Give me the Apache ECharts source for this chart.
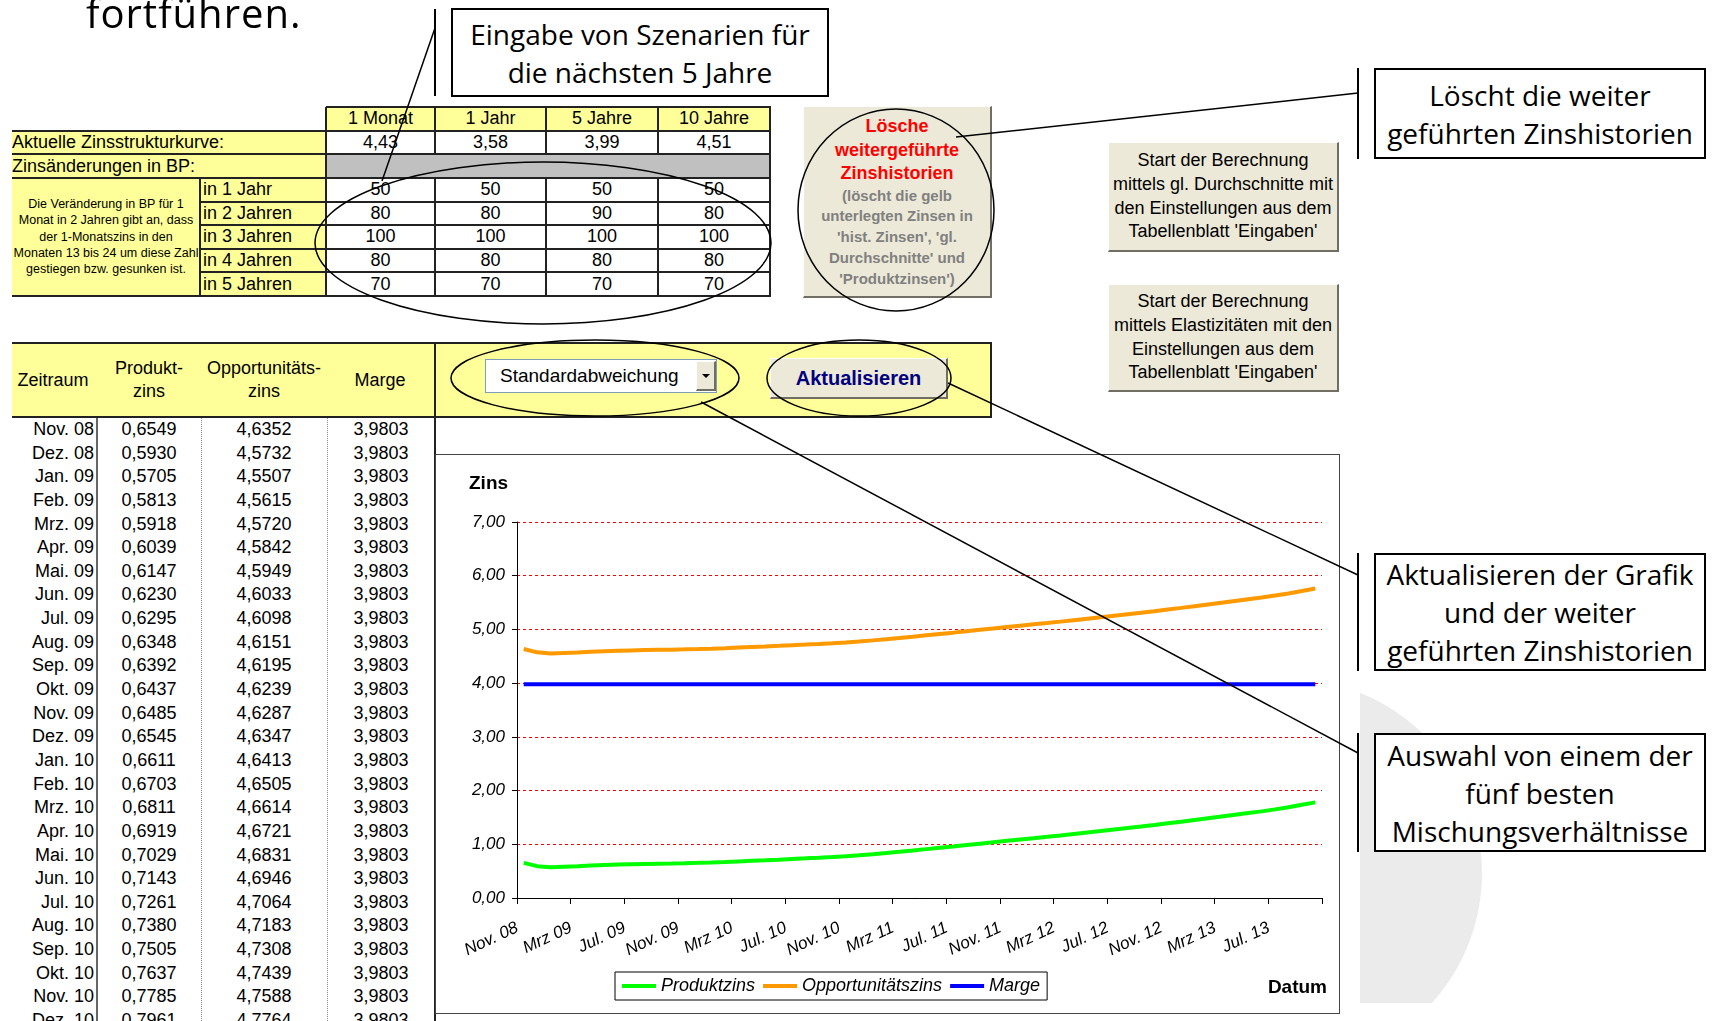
<!DOCTYPE html>
<html><head><meta charset="utf-8">
<script src="https://cdn.jsdelivr.net/npm/echarts@6/dist/echarts.min.js"></script>
<style>
html,body{margin:0;padding:0;background:#fff;}
#page{position:relative;width:1717px;height:1021px;overflow:hidden;background:#fff;font-family:'Liberation Sans',Arial,sans-serif;color:#000;}
.abs{position:absolute;box-sizing:border-box;}
.fc{display:flex;align-items:center;justify-content:center;text-align:center;}
.fl{display:flex;align-items:center;justify-content:flex-start;}
.call{border:2px solid #000;background:#fff;font-family:'Open Sans',sans-serif;font-size:28px;line-height:38px;}
.btn{background:#ece9d8;border-top:1px solid #fff;border-left:1px solid #fff;border-right:2px solid #716f64;border-bottom:2px solid #716f64;}
</style></head>
<body><div id="page"></div>
<script>
// ---------- data ----------
const months = ['Nov. 08','Dez. 08','Jan. 09','Feb. 09','Mrz. 09','Apr. 09','Mai. 09','Jun. 09','Jul. 09','Aug. 09','Sep. 09','Okt. 09',
 'Nov. 09','Dez. 09','Jan. 10','Feb. 10','Mrz. 10','Apr. 10','Mai. 10','Jun. 10','Jul. 10','Aug. 10','Sep. 10','Okt. 10',
 'Nov. 10','Dez. 10','Jan. 11','Feb. 11','Mrz. 11','Apr. 11','Mai. 11','Jun. 11','Jul. 11','Aug. 11','Sep. 11','Okt. 11',
 'Nov. 11','Dez. 11','Jan. 12','Feb. 12','Mrz. 12','Apr. 12','Mai. 12','Jun. 12','Jul. 12','Aug. 12','Sep. 12','Okt. 12',
 'Nov. 12','Dez. 12','Jan. 13','Feb. 13','Mrz. 13','Apr. 13','Mai. 13','Jun. 13','Jul. 13','Aug. 13','Sep. 13','Okt. 13'];
const xTickLabels = ['Nov. 08','Mrz 09','Jul. 09','Nov. 09','Mrz 10','Jul. 10','Nov. 10','Mrz 11','Jul. 11','Nov. 11','Mrz 12','Jul. 12','Nov. 12','Mrz 13','Jul. 13'];
const produktzins = [0.6549,0.5930,0.5705,0.5813,0.5918,0.6039,0.6147,0.6230,0.6295,0.6348,0.6392,0.6437,
 0.6485,0.6545,0.6611,0.6703,0.6811,0.6919,0.7029,0.7143,0.7261,0.7380,0.7505,0.7637,
 0.7785,0.7961,0.816,0.838,0.861,0.885,0.910,0.935,0.960,0.986,1.012,1.038,
 1.064,1.089,1.114,1.139,1.165,1.192,1.219,1.246,1.274,1.302,1.330,1.359,
 1.390,1.421,1.453,1.485,1.517,1.549,1.581,1.613,1.650,1.690,1.735,1.780];
const opportunitaetszins = [4.6352,4.5732,4.5507,4.5615,4.5720,4.5842,4.5949,4.6033,4.6098,4.6151,4.6195,4.6239,
 4.6287,4.6347,4.6413,4.6505,4.6614,4.6721,4.6831,4.6946,4.7064,4.7183,4.7308,4.7439,
 4.7588,4.7764,4.7963,4.8183,4.8413,4.8653,4.8903,4.9153,4.9403,4.9663,4.9923,5.0183,
 5.0443,5.0693,5.0943,5.1193,5.1453,5.1723,5.1993,5.2263,5.2543,5.2823,5.3103,5.3393,
 5.3703,5.4013,5.4333,5.4653,5.4973,5.5293,5.5613,5.5933,5.6303,5.6703,5.7153,5.7603];
const marge = [3.9803,3.9803,3.9803,3.9803,3.9803,3.9803,3.9803,3.9803,3.9803,3.9803,3.9803,3.9803,
 3.9803,3.9803,3.9803,3.9803,3.9803,3.9803,3.9803,3.9803,3.9803,3.9803,3.9803,3.9803,
 3.9803,3.9803,3.9803,3.9803,3.9803,3.9803,3.9803,3.9803,3.9803,3.9803,3.9803,3.9803,
 3.9803,3.9803,3.9803,3.9803,3.9803,3.9803,3.9803,3.9803,3.9803,3.9803,3.9803,3.9803,
 3.9803,3.9803,3.9803,3.9803,3.9803,3.9803,3.9803,3.9803,3.9803,3.9803,3.9803,3.9803];
const laufzeiten = ['1 Monat','1 Jahr','5 Jahre','10 Jahre'];
const zinsstruktur = ['4,43','3,58','3,99','4,51'];
const szenarioJahre = ['in 1 Jahr','in 2 Jahren','in 3 Jahren','in 4 Jahren','in 5 Jahren'];
const bpAenderungen = [[50,50,50,50],[80,80,90,80],[100,100,100,100],[80,80,80,80],[70,70,70,70]];
const sichtbareZeilen = 26;

// ---------- page ----------
const page = document.getElementById('page');
function box(x,y,w,h,cls,style,html){
  const d=document.createElement('div'); d.className='abs '+(cls||'');
  d.style.cssText=`left:${x}px;top:${y}px;width:${w}px;height:${h}px;`+(style||'');
  if(html!==undefined) d.innerHTML=html; page.appendChild(d); return d;
}
const YEL='background:#ffff99;';
const F18='font-size:18px;';
function hl(x1,x2,y){box(x1,y-1,x2-x1,2,'','background:#222;');}
function vl(x,y1,y2){box(x-1,y1,2,y2-y1,'','background:#222;');}

// watermark arc
const wm = box(1360,680,140,323,'','overflow:hidden;');
const wc = document.createElement('div'); wc.className='abs';
wc.style.cssText='left:-266px;top:-1px;width:388px;height:388px;border-radius:50%;background:#ebebeb;';
wm.appendChild(wc);

// upper table
const cols=[12,200,326,435,546,658,770];
const Y=[]; for(let i=0;i<=8;i++) Y.push(107+23.625*i);
const rh=23.625;
laufzeiten.forEach((t,c)=>box(cols[c+2],Y[0],cols[c+3]-cols[c+2],rh,'fc',YEL+F18,t));
box(12,Y[1],314,rh,'fl',YEL+F18,'Aktuelle Zinsstrukturkurve:');
zinsstruktur.forEach((t,c)=>box(cols[c+2],Y[1],cols[c+3]-cols[c+2],rh,'fc',F18,t));
box(12,Y[2],314,rh,'fl',YEL+F18,'Zinsänderungen in BP:');
box(326,Y[2],444,rh,'','background:#c0c0c0;');
box(12,Y[3],188,Y[8]-Y[3],'fc',YEL+'font-size:12.5px;line-height:16.3px;',
 'Die Veränderung in BP für 1<br>Monat in 2 Jahren gibt an, dass<br>der 1-Monatszins in den<br>Monaten 13 bis 24 um diese Zahl<br>gestiegen bzw. gesunken ist.');
szenarioJahre.forEach((t,r)=>{
  box(200,Y[3+r],126,rh,'fl',YEL+F18+'padding-left:3px;',t);
  bpAenderungen[r].forEach((v,c)=>box(cols[c+2],Y[3+r],cols[c+3]-cols[c+2],rh,'fc',F18,String(v)));
});
for(let i=0;i<=8;i++) hl(326,771,Y[i]);
[1,2,3,8].forEach(i=>hl(12,326,Y[i]));
for(let i=4;i<=7;i++) hl(200,326,Y[i]);
vl(326,Y[0],Y[8]); vl(770,Y[0],Y[8]); vl(200,Y[3],Y[8]);
[435,546,658].forEach(x=>{vl(x,Y[0],Y[2]); vl(x,Y[3],Y[8]);});

// Lösche button
box(803,106,189,192,'btn','text-align:center;padding-top:8px;',
 '<div style="color:#ff0000;font-weight:bold;font-size:18px;line-height:23.5px;">Lösche<br>weitergeführte<br>Zinshistorien</div>'+
 '<div style="color:#808080;font-weight:bold;font-size:15px;line-height:20.8px;">(löscht die gelb<br>unterlegten Zinsen in<br>\'hist. Zinsen\', \'gl.<br>Durchschnitte\' und<br>\'Produktzinsen\')</div>');
// Start buttons
box(1108,142,231,110,'btn fc','font-size:18px;line-height:23.6px;','Start der Berechnung<br>mittels gl. Durchschnitte mit<br>den Einstellungen aus dem<br>Tabellenblatt \'Eingaben\'');
box(1108,284,231,108,'btn fc','font-size:18px;line-height:23.6px;','Start der Berechnung<br>mittels Elastizitäten mit den<br>Einstellungen aus dem<br>Tabellenblatt \'Eingaben\'');

// callouts
box(451,8,378,89,'call fc','','Eingabe von Szenarien für<br>die nächsten 5 Jahre');
box(1374,68,332,91,'call fc','','Löscht die weiter<br>geführten Zinshistorien');
box(1374,553,332,118,'call fc','','Aktualisieren der Grafik<br>und der weiter<br>geführten Zinshistorien');
box(1374,733,332,119,'call fc','','Auswahl von einem der<br>fünf besten<br>Mischungsverhältnisse');

// lower header band
box(12,342,980,76,'',YEL+'border-top:2px solid #222;border-bottom:2px solid #222;border-right:2px solid #222;');
const hdr=[[53,'Zeitraum'],[149,'Produkt-<br>zins'],[264,'Opportunitäts-<br>zins'],[380,'Marge']];
hdr.forEach(([cx,t])=>box(cx-65,344,130,72,'fc',F18+'line-height:23px;',t));
// dropdown
box(485,359,232,34,'fl','background:#fff;border:1px solid #7f9db9;padding-left:14px;font-size:19px;','Standardabweichung');
const arr=box(696,361,20,30,'btn fc','');
arr.innerHTML='<div style="width:0;height:0;border-left:4px solid transparent;border-right:4px solid transparent;border-top:4px solid #000;"></div>';
// Aktualisieren
box(770,358,178,41,'btn fc','color:#000080;font-weight:bold;font-size:20px;','Aktualisieren');

// data rows
const fmt=v=>v.toFixed(4).replace('.',',');
for(let i=0;i<sichtbareZeilen;i++){
  const top=429+23.64*i-12;
  box(0,top,94,24,'','text-align:right;line-height:24px;'+F18,months[i]);
  box(99,top,100,24,'','text-align:center;line-height:24px;'+F18,fmt(produktzins[i]));
  box(214,top,100,24,'','text-align:center;line-height:24px;'+F18,fmt(opportunitaetszins[i]));
  box(331,top,100,24,'','text-align:center;line-height:24px;'+F18,fmt(marge[i]));
}
box(96,418,2,603,'','background:#666;');
box(201,418,1,603,'','border-left:1px dotted #888;');
box(327,418,1,603,'','border-left:1px dotted #888;');
box(434,342,2,679,'','background:#222;');

// chart frame
const chartDiv = box(435,454,905,560,'','border:1px solid #444;background:#fff;');
chartDiv.id='chart';

// overlay: text, lines, ellipses
const svgNS='http://www.w3.org/2000/svg';
const svg=document.createElementNS(svgNS,'svg');
svg.setAttribute('width','1717'); svg.setAttribute('height','1021');
svg.style.cssText='position:absolute;left:0;top:0;pointer-events:none;z-index:10;';
svg.innerHTML=
 '<text x="86" y="28" font-family="Open Sans" font-size="40" letter-spacing="1" fill="#000">fortführen.</text>'+
 '<g stroke="#000" fill="none">'+
 '<line x1="435" y1="9" x2="435" y2="96" stroke-width="2"/>'+
 '<line x1="435" y1="28" x2="382" y2="181" stroke-width="1.5"/>'+
 '<line x1="956" y1="137" x2="1358" y2="93" stroke-width="1.5"/>'+
 '<line x1="1358" y1="68" x2="1358" y2="159" stroke-width="2"/>'+
 '<line x1="948" y1="383" x2="1358" y2="575" stroke-width="1.5"/>'+
 '<line x1="1358" y1="553" x2="1358" y2="671" stroke-width="2"/>'+
 '<line x1="701" y1="402" x2="1358" y2="753" stroke-width="1.5"/>'+
 '<line x1="1358" y1="733" x2="1358" y2="852" stroke-width="2"/>'+
 '<ellipse cx="543" cy="243" rx="228" ry="81" stroke-width="1.5"/>'+
 '<ellipse cx="896" cy="210" rx="98" ry="101" stroke-width="1.5"/>'+
 '<ellipse cx="595" cy="378" rx="144" ry="38" stroke-width="1.5"/>'+
 '<ellipse cx="859" cy="378" rx="92" ry="38" stroke-width="1.5"/>'+
 '</g>';
page.appendChild(svg);

// ---------- chart ----------
const FONT="'Liberation Sans', Arial, sans-serif";
const chart=echarts.init(chartDiv,null,{renderer:'canvas'});
chart.setOption({
  animation:false,
  title:{text:'Zins',left:28,top:14,textStyle:{fontFamily:FONT,fontSize:19,fontWeight:'bold',color:'#000'}},
  grid:{left:81,right:17,top:67,bottom:115,containLabel:false,outerBoundsMode:'none'},
  legend:{data:['Produktzins','Opportunitätszins','Marge'],left:179,top:517,icon:'rect',itemWidth:34,itemHeight:4,itemGap:8,
    padding:[5,7],borderColor:'#000',borderWidth:1,backgroundColor:'#fff',
    textStyle:{fontFamily:FONT,fontSize:18,fontStyle:'italic',color:'#000'}},
  graphic:[{type:'text',right:12,top:523,style:{text:'Datum',font:"bold 19px 'Liberation Sans', Arial, sans-serif",fill:'#000'}}],
  xAxis:{type:'category',data:months,boundaryGap:true,
    axisLine:{lineStyle:{color:'#000',width:1}},
    axisTick:{show:true,interval:3,length:6,lineStyle:{color:'#000'}},
    axisLabel:{interval:3,rotate:25,formatter:(v,i)=>(i%4===0?(xTickLabels[i/4]||''):''),
      fontFamily:FONT,fontSize:17,fontStyle:'italic',color:'#000',margin:26,padding:[0,7,0,0]},
    splitLine:{show:false}},
  yAxis:{type:'value',min:0,max:7,interval:1,
    axisLine:{show:true,lineStyle:{color:'#000'}},
    axisTick:{show:true,length:5,lineStyle:{color:'#000'}},
    axisLabel:{formatter:v=>v.toFixed(2).replace('.',','),fontFamily:FONT,fontSize:17,fontStyle:'italic',color:'#000',margin:12},
    splitLine:{show:true,lineStyle:{color:'#ff0000',type:[3,3],width:1}}},
  series:[
    {name:'Produktzins',type:'line',data:produktzins,color:'#00ff00',showSymbol:false,lineStyle:{width:4,color:'#00ff00'}},
    {name:'Opportunitätszins',type:'line',data:opportunitaetszins,color:'#ff9900',showSymbol:false,lineStyle:{width:4,color:'#ff9900'}},
    {name:'Marge',type:'line',data:marge,color:'#0000ff',showSymbol:false,lineStyle:{width:4,color:'#0000ff'}}
  ]
});
</script></body></html>
